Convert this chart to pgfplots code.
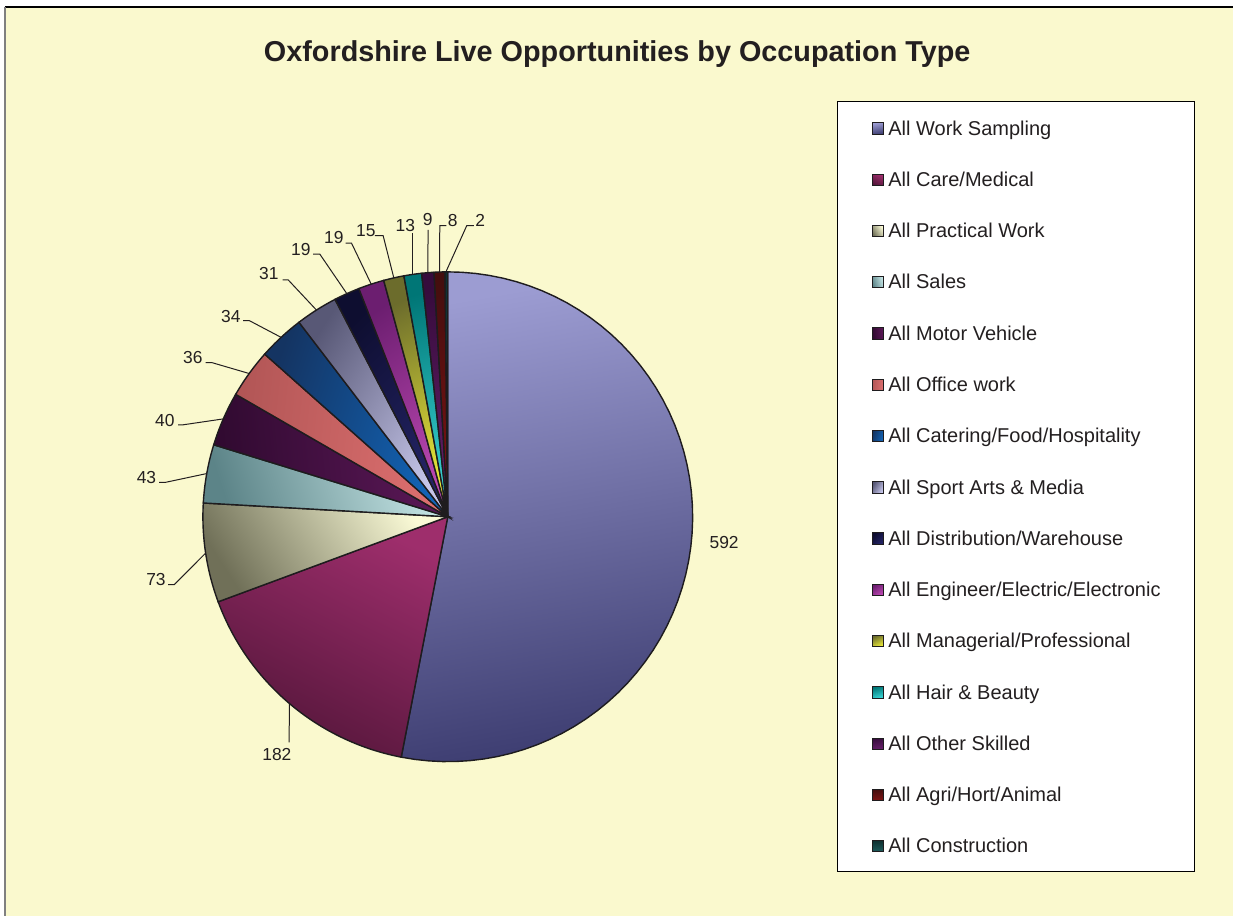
\documentclass[border=0pt]{standalone}
\usepackage{fontspec}
\setmainfont{Liberation Sans}
\usepackage{pgfplots}
\usepackage{pgfplotstable}
\pgfplotsset{compat=1.18}

\definecolor{bg}{RGB}{250,249,206}
\definecolor{txt}{RGB}{35,31,32}
\definecolor{edge}{RGB}{30,28,30}
\definecolor{wsT}{RGB}{156,156,210} \definecolor{wsB}{RGB}{62,62,114}
\definecolor{caT}{RGB}{158,46,108}  \definecolor{caB}{RGB}{84,22,58}
\definecolor{prT}{RGB}{250,250,214} \definecolor{prB}{RGB}{112,112,88}
\definecolor{saT}{RGB}{198,230,230} \definecolor{saB}{RGB}{92,132,136}
\definecolor{moT}{RGB}{92,24,88}    \definecolor{moB}{RGB}{48,10,48}
\definecolor{ofT}{RGB}{222,112,112} \definecolor{ofB}{RGB}{178,86,86}
\definecolor{cfT}{RGB}{18,100,182}  \definecolor{cfB}{RGB}{20,52,98}
\definecolor{spT}{RGB}{198,198,234} \definecolor{spB}{RGB}{88,88,118}
\definecolor{diT}{RGB}{36,36,102}   \definecolor{diB}{RGB}{14,14,48}
\definecolor{enT}{RGB}{188,72,178}  \definecolor{enB}{RGB}{108,30,112}
\definecolor{maT}{RGB}{236,236,56}  \definecolor{maB}{RGB}{108,108,44}
\definecolor{haT}{RGB}{58,212,212}  \definecolor{haB}{RGB}{0,118,118}
\definecolor{otT}{RGB}{102,30,106}  \definecolor{otB}{RGB}{54,12,60}
\definecolor{agT}{RGB}{128,20,20}   \definecolor{agB}{RGB}{68,14,14}
\definecolor{coT}{RGB}{30,92,92}    \definecolor{coB}{RGB}{14,48,48}

% value, colour key, direction of the light side of the gradient (deg), legend name
\pgfplotstableread[col sep=comma]{
value,col,light,name
592,ws,100,All Work Sampling
182,ca,63,All Care/Medical
73,pr,33,All Practical Work
43,sa,18,All Sales
40,mo,6,All Motor Vehicle
36,of,-6,All Office work
34,cf,-19,All Catering/Food/Hospitality
31,sp,-33,All Sport Arts \& Media
19,di,-45,All Distribution/Warehouse
19,en,-55,All Engineer/Electric/Electronic
15,ma,-65,All Managerial/Professional
13,ha,-74,All Hair \& Beauty
9,ot,-81,All Other Skilled
8,ag,-86,All Agri/Hort/Animal
2,co,-89,All Construction
}\piedata

\pgfplotstablegetrowsof{\piedata}
\pgfmathtruncatemacro\nrows{\pgfplotsretval-1}
\def\pietotal{0}
\pgfplotsforeachungrouped \i in {0,...,\nrows}{%
  \pgfplotstablegetelem{\i}{value}\of\piedata
  \pgfmathsetmacro\pietotal{\pietotal+\pgfplotsretval}%
}

\begin{document}
\begin{tikzpicture}
\begin{axis}[
  width=617pt, height=458pt, scale only axis,
  xmin=0, xmax=1234, ymin=0, ymax=916,
  hide axis, clip=false,
  legend cell align=left,
  legend image code/.code={\draw[#1, line width=0.5pt] (0pt,-3.1pt) rectangle (5.7pt,2.6pt);},
  legend style={at={(axis cs:872,795.2)}, anchor=north west,
    draw=none, fill=none, inner sep=0pt, outer sep=0pt,
    row sep=18.45pt, column sep=2.2pt,
    font=\fontsize{10}{12}\selectfont, text=txt,
    nodes={inner sep=0pt, text height=7.2pt, text depth=0pt}},
]
% background
\fill[bg] (axis cs:5,0) rectangle (axis cs:1234,909);
\draw[black, line width=0.6pt] (axis cs:5,909) -- (axis cs:1234,909);
\draw[gray, line width=0.6pt] (axis cs:5,0) -- (axis cs:5,909);
\path (axis cs:0,0) rectangle (axis cs:1234,916);
% legend frame
\draw[black, line width=0.5pt, fill=white] (axis cs:838,814) rectangle (axis cs:1195,44);

% slices
\def\piecum{0}
\pgfplotsforeachungrouped \i in {0,...,\nrows}{%
  \pgfplotstablegetelem{\i}{value}\of\piedata\let\pv\pgfplotsretval
  \pgfplotstablegetelem{\i}{col}\of\piedata\let\pc\pgfplotsretval
  \pgfplotstablegetelem{\i}{light}\of\piedata\let\pl\pgfplotsretval
  \pgfplotstablegetelem{\i}{name}\of\piedata\let\pn\pgfplotsretval
  \pgfmathsetmacro\sa{\piecum/\pietotal*360}%
  \pgfmathsetmacro\piecum{\piecum+\pv}%
  \pgfmathsetmacro\ea{\piecum/\pietotal*360}%
  \pgfmathsetmacro\shang{\pl-90}%
  \edef\doslice{\noexpand\addplot[draw=edge, line width=0.7pt,
      top color=\pc T, bottom color=\pc B, shading angle=\shang,
      domain=\sa:\ea, samples=60]
      ({448+245*sin(x)},{399+245*cos(x)}) -- (axis cs:448,399) -- cycle;
    \noexpand\addlegendentry{\pn}}%
  \doslice
}

% title
\node[anchor=base, font=\fontsize{14.4}{17}\selectfont\bfseries, text=txt] at (axis cs:617.5,854.5) {Oxfordshire Live Opportunities by Occupation Type};

% data labels and leader lines
\begin{scope}[every node/.style={font=\fontsize{8.7}{10}\selectfont, text=txt, inner sep=0pt}]
\node at (axis cs:724.5,373) {592};
\node at (axis cs:277,161) {182};
\node at (axis cs:156,336) {73};
\node at (axis cs:146.5,438.5) {43};
\node at (axis cs:165,495) {40};
\node at (axis cs:193,558.5) {36};
\node at (axis cs:231,599.5) {34};
\node at (axis cs:269,642) {31};
\node at (axis cs:301,666.7) {19};
\node at (axis cs:334,678) {19};
\node at (axis cs:366,685.5) {15};
\node at (axis cs:405.5,690.5) {13};
\node at (axis cs:428,696) {9};
\node at (axis cs:453,695.3) {8};
\node at (axis cs:480.5,695.2) {2};
\end{scope}
\begin{scope}[draw=txt, line width=0.5pt]
\draw (axis cs:289.3,173.3) -- (axis cs:289.5,212.2);
\draw (axis cs:168.3,331) -- (axis cs:174.3,331) -- (axis cs:205.7,362.6);
\draw (axis cs:159.3,433.3) -- (axis cs:165,433.3) -- (axis cs:206.8,442.2);
\draw (axis cs:178.3,491) -- (axis cs:183.3,491) -- (axis cs:223.4,496.9);
\draw (axis cs:205.7,553.3) -- (axis cs:211.7,553.3) -- (axis cs:249.3,542.3);
\draw (axis cs:243.3,595.3) -- (axis cs:249.3,595.3) -- (axis cs:281.2,578.5);
\draw (axis cs:282.7,636) -- (axis cs:288.3,636) -- (axis cs:316.6,605.8);
\draw (axis cs:313.3,661.7) -- (axis cs:320,661.7) -- (axis cs:347.0,622.2);
\draw (axis cs:345.7,672.7) -- (axis cs:351.7,672.7) -- (axis cs:371.4,631.7);
\draw (axis cs:375,680.3) -- (axis cs:383.3,680.3) -- (axis cs:394.0,638.0);
\draw (axis cs:413,683) -- (axis cs:413,641.5);
\draw (axis cs:428.3,686) -- (axis cs:428.0,643.2);
\draw (axis cs:446.7,690.3) -- (axis cs:440,690.3) -- (axis cs:439.7,643.9);
\draw (axis cs:474,690.3) -- (axis cs:467,690.3) -- (axis cs:446.6,645);
\end{scope}
\end{axis}
\end{tikzpicture}
\end{document}
